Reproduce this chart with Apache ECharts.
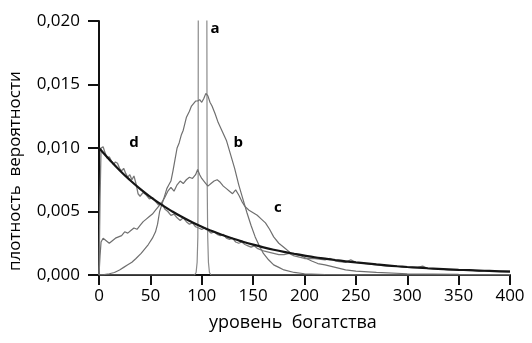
<!DOCTYPE html>
<html>
<head>
<meta charset="utf-8">
<script src="https://cdn.jsdelivr.net/npm/echarts@6/dist/echarts.min.js"></script>
<style>
  html, body { margin: 0; padding: 0; background: #fff; }
  #chart { width: 532px; height: 343px; }
</style>
</head>
<body>
<div id="chart"></div>
<script>
// Wealth distributions: probability density vs. wealth level

const xTicks = [0, 50, 100, 150, 200, 250, 300, 350, 400];
const yTickLabels = ['0,000', '0,005', '0,010', '0,015', '0,020'];
const yTickValues = [0, 0.005, 0.010, 0.015, 0.020];

// a: everyone starts with the same wealth (narrow spike near 100)
const curveA = [
  [0, 0], [93, 0], [94.5, 0.0002], [95.5, 0.001], [96.2, 0.003], [96.5, 0.008],
  [96.7, 0.03], [97.5, 0.1], [101, 0.15], [104.5, 0.1], [104.8, 0.03],
  [105.2, 0.008], [105.8, 0.003], [106.5, 0.001], [107.5, 0.0002], [109, 0], [400, 0]
];

// b: bell-shaped distribution peaking near 100
const curveB = [
  [0, 0], [5, 0.00003], [10, 0.0001], [15, 0.0002], [20, 0.0004], [24, 0.0006],
  [28, 0.0008], [32, 0.0010], [36, 0.0013], [41, 0.0017], [45, 0.0021], [48, 0.0024],
  [52, 0.0029], [55, 0.0034], [57, 0.0040], [59, 0.0050], [61, 0.0055], [63, 0.0060],
  [66, 0.0068], [68, 0.0071], [70, 0.0074], [72, 0.0082], [74, 0.0091], [76, 0.0100],
  [78, 0.0104], [80, 0.0110], [82, 0.0114], [85, 0.0124], [88, 0.0129], [90, 0.0133],
  [92, 0.0135], [94, 0.0137], [96, 0.0137], [98, 0.0138], [100, 0.0136], [102, 0.0139],
  [104, 0.0143], [106, 0.0141], [108, 0.0136], [110, 0.0133], [113, 0.0127],
  [116, 0.0120], [120, 0.0113], [124, 0.0106], [128, 0.0095], [132, 0.0084],
  [136, 0.0071], [140, 0.0060], [144, 0.0049], [148, 0.0039], [152, 0.0030],
  [156, 0.0023], [160, 0.0017], [165, 0.0012], [170, 0.0008], [175, 0.0006],
  [180, 0.0004], [190, 0.0002], [200, 0.0001], [220, 0.00004], [250, 0.00001], [400, 0]
];

// c: broad, skewed distribution
const curveC = [
  [0, 0], [1, 0.0015], [2, 0.0026], [4, 0.0029], [7, 0.0027], [10, 0.0025],
  [13, 0.0027], [16, 0.0029], [19, 0.0030], [22, 0.0031], [25, 0.0034], [28, 0.0033],
  [31, 0.0035], [34, 0.0037], [37, 0.0036], [40, 0.0039], [43, 0.0042], [46, 0.0044],
  [49, 0.0046], [52, 0.0048], [55, 0.0051], [58, 0.0054], [61, 0.0057], [64, 0.0061],
  [67, 0.0066], [70, 0.0069], [73, 0.0066], [76, 0.0071], [79, 0.0074], [82, 0.0072],
  [85, 0.0075], [88, 0.0077], [91, 0.0076], [94, 0.0079], [96, 0.0083], [98, 0.0079],
  [100, 0.0076], [103, 0.0073], [106, 0.0070], [109, 0.0072], [112, 0.0074],
  [115, 0.0075], [118, 0.0073], [121, 0.0070], [124, 0.0068], [127, 0.0066],
  [130, 0.0064], [133, 0.0067], [136, 0.0063], [139, 0.0058], [142, 0.0054],
  [146, 0.0051], [150, 0.0049], [154, 0.0047], [158, 0.0044], [162, 0.0041],
  [166, 0.0036], [170, 0.0030], [175, 0.0025], [181, 0.0021], [187, 0.0017],
  [192, 0.0016], [197, 0.0015], [202, 0.0013], [207, 0.0011], [213, 0.0009],
  [220, 0.0008], [230, 0.0006], [240, 0.0004], [250, 0.0003], [270, 0.0002],
  [300, 0.0001], [350, 0.00006], [400, 0.00004]
];

// d: simulated distribution close to the exponential
const curveD = [
  [0, 0], [1, 0.0060], [2, 0.0100], [4, 0.0101], [6, 0.0096], [8, 0.0092],
  [10, 0.0093], [12, 0.0090], [14, 0.0087], [16, 0.0089], [18, 0.0088], [20, 0.0084],
  [22, 0.0082], [24, 0.0084], [26, 0.0080], [28, 0.0077], [30, 0.0079], [32, 0.0075],
  [34, 0.0078], [36, 0.0072], [38, 0.0064], [40, 0.0062], [43, 0.0065], [46, 0.0063],
  [49, 0.0060], [52, 0.0061], [55, 0.0058], [58, 0.0055], [61, 0.0057], [64, 0.0052],
  [67, 0.0050], [70, 0.0047], [73, 0.0048], [76, 0.0045], [79, 0.0043], [82, 0.0045],
  [85, 0.0042], [88, 0.0040], [91, 0.0041], [94, 0.0038], [97, 0.0037], [100, 0.0036],
  [103, 0.0037], [106, 0.0035], [109, 0.0033], [112, 0.0034], [115, 0.0032],
  [118, 0.0031], [121, 0.0032], [124, 0.0029], [127, 0.0028], [130, 0.0029],
  [133, 0.0026], [136, 0.0025], [139, 0.0026], [142, 0.0024], [145, 0.0023],
  [148, 0.0022], [151, 0.0023], [154, 0.0021], [157, 0.0020], [160, 0.0019],
  [165, 0.0018], [170, 0.0017], [175, 0.0016], [180, 0.0016], [185, 0.0017],
  [190, 0.0015], [195, 0.0014], [200, 0.0013], [210, 0.0013], [220, 0.0012],
  [225, 0.0013], [230, 0.0011], [240, 0.0010], [245, 0.0012], [250, 0.0010],
  [260, 0.0009], [270, 0.0008], [280, 0.0007], [290, 0.0007], [300, 0.0006],
  [310, 0.0006], [315, 0.0007], [320, 0.0005], [330, 0.0005], [340, 0.0004],
  [350, 0.0004], [360, 0.0004], [370, 0.0003], [380, 0.0003], [390, 0.0003], [400, 0.0003]
];

// smooth exponential (Boltzmann-Gibbs) curve
const fitCurve = [
  [0, 0.0100], [10, 0.00910], [20, 0.00825], [30, 0.00748], [40, 0.00678],
  [50, 0.00615], [60, 0.00558], [70, 0.00507], [80, 0.00460], [90, 0.00418],
  [100, 0.00380], [110, 0.00346], [120, 0.00315], [130, 0.00287], [140, 0.00262],
  [150, 0.00239], [160, 0.00218], [170, 0.00199], [180, 0.00182], [190, 0.00167],
  [200, 0.00153], [210, 0.00140], [220, 0.00129], [230, 0.00118], [240, 0.00108],
  [250, 0.00099], [260, 0.00091], [270, 0.00083], [280, 0.00076], [290, 0.00069],
  [300, 0.00063], [310, 0.00058], [320, 0.00053], [330, 0.00049], [340, 0.00045],
  [350, 0.00041], [360, 0.00038], [370, 0.00035], [380, 0.00032], [390, 0.00029],
  [400, 0.00027]
];

// curve letters and where they sit, in data units
const curveLabels = [
  { name: 'a', x: 113, y: 0.0194 },
  { name: 'b', x: 135.5, y: 0.0104 },
  { name: 'c', x: 174, y: 0.0053 },
  { name: 'd', x: 34, y: 0.0104 }
];

const FONT = '"Open Sans", "Noto Sans", sans-serif';
const GREY = '#6f6f6f';

const chart = echarts.init(document.getElementById('chart'), null, { renderer: 'canvas' });

function line(name, data, color, width, z) {
  return {
    name, type: 'line', data, showSymbol: false, smooth: false, clip: true,
    lineStyle: { color, width }, z, silent: true, animation: false
  };
}

const axisStyle = { lineStyle: { color: '#111', width: 2 } };

chart.setOption({
  backgroundColor: '#fff',
  animation: false,
  grid: { left: 99, right: 22, top: 21, bottom: 68, containLabel: false },
  xAxis: {
    type: 'value', min: 0, max: 400, interval: 50,
    axisLine: { show: true, onZero: false, ...axisStyle },
    axisTick: { show: true, length: 10, inside: false, lineStyle: { color: '#111', width: 2 } },
    splitLine: { show: false },
    axisLabel: {
      margin: 13, color: '#000', fontFamily: FONT, fontSize: 17,
      formatter: v => xTicks.includes(v) ? String(v) : ''
    }
  },
  yAxis: {
    type: 'value', min: 0, max: 0.02, interval: 0.005,
    axisLine: { show: true, ...axisStyle },
    axisTick: { show: true, length: 11, inside: false, lineStyle: { color: '#111', width: 2 } },
    splitLine: { show: false },
    axisLabel: {
      margin: 19, color: '#000', fontFamily: FONT, fontSize: 17,
      formatter: v => {
        const i = yTickValues.findIndex(t => Math.abs(t - v) < 1e-9);
        return i >= 0 ? yTickLabels[i] : '';
      }
    }
  },
  series: [
    line('a', curveA, '#8a8a8a', 1.2, 2),
    line('b', curveB, GREY, 1.2, 3),
    line('c', curveC, GREY, 1.2, 3),
    line('d', curveD, '#7a7a7a', 1.3, 3),
    Object.assign(line('exp', fitCurve, '#151515', 2.2, 5), {
      smooth: true,
      markPoint: {
        symbol: 'circle', symbolSize: 0, silent: true,
        label: {
          show: true, position: 'inside', color: '#000',
          fontFamily: FONT, fontSize: 15, fontWeight: 'bold',
          formatter: p => p.name
        },
        data: curveLabels.map(l => ({ name: l.name, coord: [l.x, l.y] }))
      }
    })
  ],
  graphic: [
    {
      type: 'text', left: 209, top: 314,
      style: { text: 'уровень  богатства', font: '18px ' + FONT, fill: '#000' }
    },
    {
      type: 'text', x: 7, y: 271, rotation: Math.PI / 2,
      style: { text: 'плотность  вероятности', font: '17px ' + FONT, fill: '#000' }
    }
  ]
});
</script>
</body>
</html>
